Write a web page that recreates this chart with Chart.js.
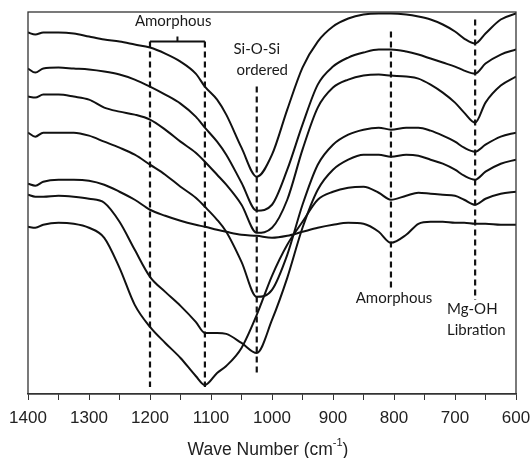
<!DOCTYPE html>
<html>
<head>
<meta charset="utf-8">
<script src="https://cdn.jsdelivr.net/npm/chart.js@4/dist/chart.umd.min.js"></script>
<style>
    html, body { margin: 0; padding: 0; background: #ffffff; }
    #spectraChart { display: block; }
</style>
</head>
<body>
<canvas id="spectraChart" width="531" height="458"></canvas>
<script>
// FTIR spectra, offset traces (arbitrary transmittance units)
const waveNumbers = [1400, 1388, 1375, 1350, 1325, 1300, 1275, 1250, 1225, 1200, 1175, 1150, 1125, 1110, 1090, 1075, 1050, 1025, 1000, 975, 950, 925, 900, 875, 850, 825, 805, 780, 760, 740, 720, 700, 685, 667, 650, 625, 600];

const trace1 = [361, 359, 361, 361, 360, 357, 354, 352, 349, 346, 340, 332, 320, 307, 294, 279, 246, 217, 239, 284, 326, 352, 367, 375, 379, 380, 380, 379, 377, 374, 369, 362, 355, 350, 360, 374, 380];
const trace2 = [325, 321, 325, 326, 325, 324, 322, 319, 314, 307, 299, 290, 277, 266, 252, 239, 211, 183, 189, 224, 269, 309, 327, 336, 341, 344, 344, 342, 339, 335, 331, 327, 323, 320, 330, 339, 344];
const trace3 = [297, 296, 299, 299, 297, 294, 286, 282, 279, 274, 264, 252, 241, 232, 219, 209, 189, 161, 166, 194, 244, 286, 306, 314, 318, 319, 318, 317, 315, 309, 301, 291, 281, 271, 291, 308, 317];
const trace4 = [261, 257, 261, 261, 261, 258, 252, 246, 239, 229, 219, 207, 196, 187, 174, 162, 132, 97, 104, 139, 189, 229, 249, 259, 264, 266, 264, 266, 266, 263, 258, 252, 246, 242, 249, 257, 261];
const trace5 = [210, 208, 212, 214, 214, 213, 209, 202, 194, 184, 178, 173, 169, 167, 164, 162, 159, 158, 156, 158, 162, 166, 169, 171, 170, 162, 151, 159, 170, 172, 172, 171, 171, 170, 170, 169, 169];
const trace6 = [199, 197, 197, 198, 197, 195, 191, 172, 144, 117, 102, 88, 72, 61, 61, 60, 51, 41, 74, 116, 166, 204, 224, 234, 239, 239, 237, 239, 238, 234, 230, 224, 218, 214, 222, 230, 234];
const trace7 = [167, 166, 169, 171, 170, 166, 156, 126, 89, 67, 51, 36, 18, 9, 21, 28, 46, 79, 118, 149, 172, 194, 202, 206, 207, 201, 194, 198, 201, 200, 199, 198, 194, 189, 195, 200, 202];

const traces = [trace1, trace2, trace3, trace4, trace5, trace6, trace7];

// Band markers: wave number, lower and upper end of the dashed line
const bandWave = [1200, 1110, 1025, 805, 667];
const bandLow = [7, 7, 18, 104, 94];
const bandHigh = [352, 352, 307, 362, 374];

// Bracket over the amorphous region
const bracketFrom = 1200;
const bracketTo = 1110;
const bracketMid = 1155;
const bracketLevel = 352;
const bracketTip = 357;

// Annotation texts
const noteText = ['Amorphous', 'Si-O-Si', 'ordered', 'Amorphous', 'Mg-OH', 'Libration'];
const noteWave = [1162, 1025, 1016, 800, 713, 713];
const noteLevel = [372, 344, 323, 96, 85, 64];
const noteAlign = ['center', 'center', 'center', 'center', 'left', 'left'];

const inkColor = '#111111';
const frameColor = '#333333';
const tickFont = '"Liberation Sans", Arial, sans-serif';

const datasets = traces.map((trace, i) => ({
    label: 'Sample ' + (i + 1),
    data: trace.map((v, j) => ({ x: waveNumbers[j], y: v })),
    borderColor: inkColor,
    borderWidth: 2,
    pointRadius: 0,
    fill: false,
    cubicInterpolationMode: 'monotone'
}));

// Draws frame, dashed band lines, bracket, labels and axis title
const annotationPlugin = {
    id: 'bandAnnotations',
    afterDatasetsDraw(chart) {
        const ctx = chart.ctx;
        const xs = chart.scales.x;
        const ys = chart.scales.y;
        const area = chart.chartArea;

        ctx.save();

        // box around plot
        ctx.strokeStyle = frameColor;
        ctx.lineWidth = 1.3;
        ctx.strokeRect(area.left, area.top, area.right - area.left, area.bottom - area.top);

        // dashed band lines
        ctx.strokeStyle = inkColor;
        ctx.lineWidth = 2.2;
        ctx.setLineDash([6, 4]);
        bandWave.forEach((w, i) => {
            const px = xs.getPixelForValue(w);
            ctx.beginPath();
            ctx.moveTo(px, ys.getPixelForValue(bandHigh[i]));
            ctx.lineTo(px, ys.getPixelForValue(bandLow[i]));
            ctx.stroke();
        });

        // bracket
        ctx.setLineDash([]);
        ctx.lineWidth = 2;
        ctx.beginPath();
        ctx.moveTo(xs.getPixelForValue(bracketFrom), ys.getPixelForValue(bracketLevel));
        ctx.lineTo(xs.getPixelForValue(bracketTo), ys.getPixelForValue(bracketLevel));
        ctx.moveTo(xs.getPixelForValue(bracketMid), ys.getPixelForValue(bracketLevel));
        ctx.lineTo(xs.getPixelForValue(bracketMid), ys.getPixelForValue(bracketTip));
        ctx.stroke();

        // band labels
        ctx.fillStyle = '#1a1a1a';
        ctx.font = '15px Lato, "Open Sans", sans-serif';
        ctx.textBaseline = 'middle';
        noteText.forEach((t, i) => {
            ctx.textAlign = noteAlign[i];
            ctx.fillText(t, xs.getPixelForValue(noteWave[i]), ys.getPixelForValue(noteLevel[i]));
        });

        // x axis title with superscript
        const mainPart = 'Wave Number (cm';
        const supPart = '-1';
        const endPart = ')';
        const bigFont = '17.5px ' + tickFont;
        const smallFont = '11px ' + tickFont;
        ctx.font = bigFont;
        const w1 = ctx.measureText(mainPart).width;
        const w3 = ctx.measureText(endPart).width;
        ctx.font = smallFont;
        const w2 = ctx.measureText(supPart).width;
        const total = w1 + w2 + w3;
        let tx = (area.left + area.right) / 2 - 4 - total / 2;
        const ty = area.bottom + 56;
        ctx.fillStyle = '#222222';
        ctx.textAlign = 'left';
        ctx.font = bigFont;
        ctx.fillText(mainPart, tx, ty);
        tx += w1;
        ctx.font = smallFont;
        ctx.fillText(supPart, tx, ty - 7);
        tx += w2;
        ctx.font = bigFont;
        ctx.fillText(endPart, tx, ty);

        ctx.restore();
    }
};

new Chart(document.getElementById('spectraChart'), {
    type: 'line',
    data: { datasets: datasets },
    options: {
        responsive: false,
        animation: false,
        layout: {
            padding: { left: 28, right: 15, top: 12, bottom: 0 }
        },
        plugins: {
            legend: { display: false },
            tooltip: { enabled: false }
        },
        scales: {
            x: {
                type: 'linear',
                reverse: true,
                min: 600,
                max: 1400,
                afterFit: function(scale) {
                    // keep the plot box fixed, end labels may overhang
                    scale.height = 64;
                    scale.paddingLeft = 0;
                    scale.paddingRight = 0;
                },
                grid: {
                    display: true,
                    drawOnChartArea: false,
                    drawTicks: true,
                    tickLength: 6,
                    color: frameColor
                },
                border: { display: true, color: frameColor, width: 1.3 },
                ticks: {
                    stepSize: 50,
                    autoSkip: false,
                    maxRotation: 0,
                    padding: 8,
                    color: '#222222',
                    font: { family: tickFont, size: 17 },
                    callback: function(value) {
                        return value % 100 === 0 ? value : '';
                    }
                }
            },
            y: {
                display: false,
                min: 0,
                max: 381.5
            }
        }
    },
    plugins: [annotationPlugin]
});
</script>
</body>
</html>
